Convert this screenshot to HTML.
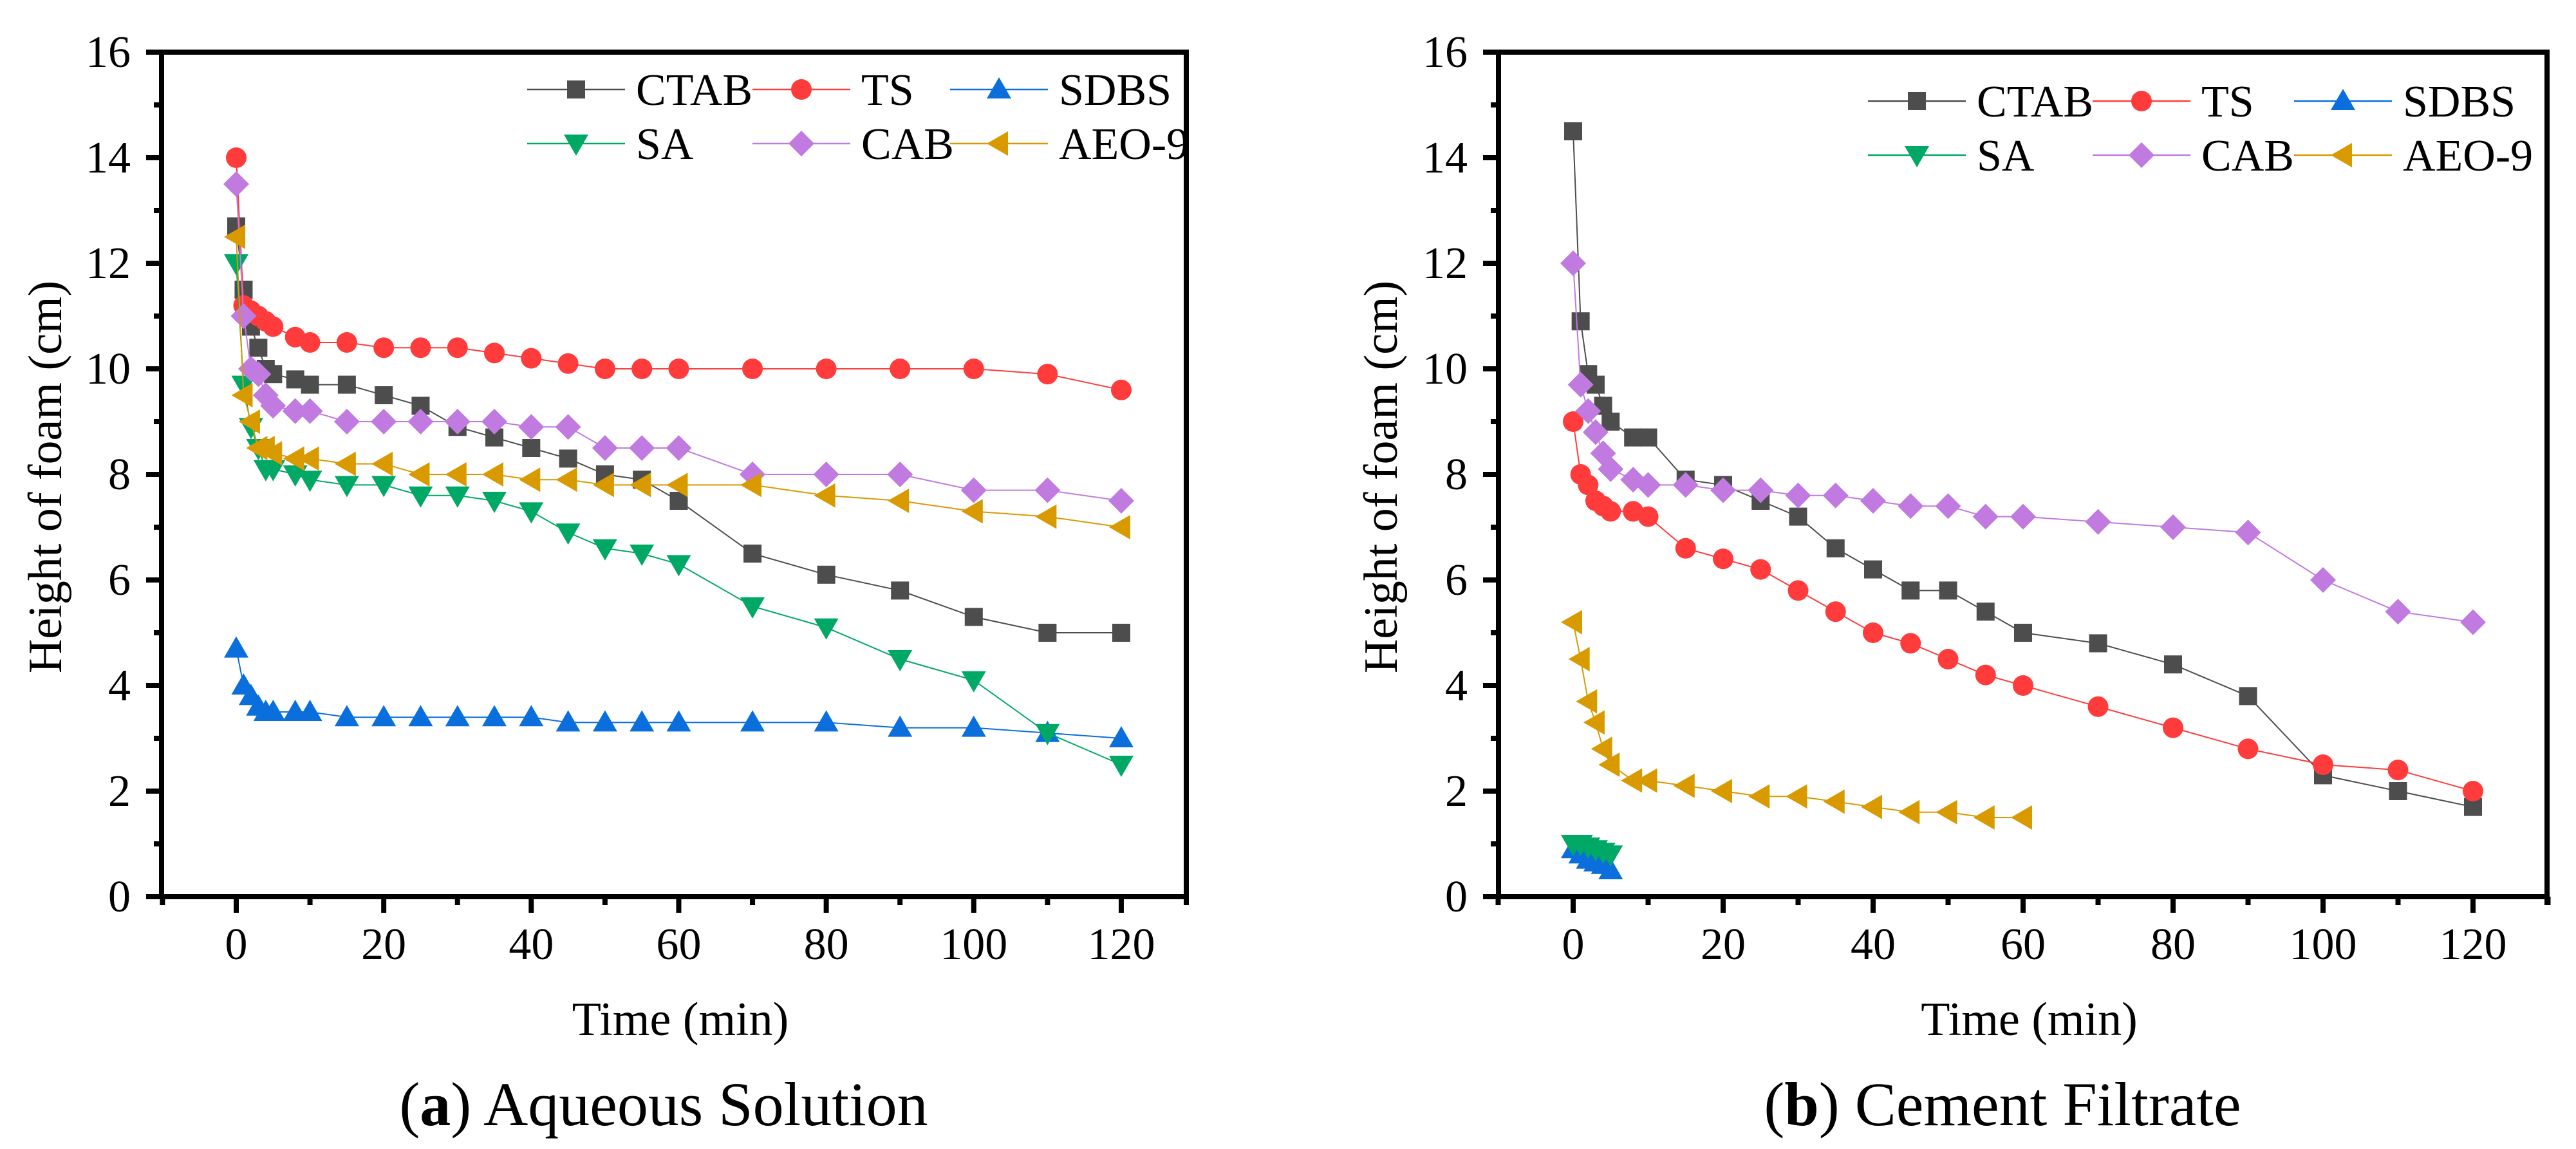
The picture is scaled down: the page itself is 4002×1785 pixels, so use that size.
<!DOCTYPE html>
<html><head><meta charset="utf-8"><style>
html,body{margin:0;padding:0;background:#fff;}
svg{display:block;}
text,tspan{font-family:"Liberation Serif",serif !important;}
</style></head><body>
<svg id="fig" width="4002" height="1785" viewBox="0 0 4002 1785" xmlns="http://www.w3.org/2000/svg" font-family="Liberation Serif, serif">
<rect width="4002" height="1785" fill="#fff"/>
</svg>
<script>
const tFull = [0,1,2,3,4,5,8,10,15,20,25,30,35,40,45,50,55,60,70,80,90,100,110,120];
const tAEOb = [0,1,2,3,4,5,8,10,15,20,25,30,35,40,45,50,55,60];
const tShort = [0,1,2,3,4,5];
const seriesNames = ["CTAB","TS","SDBS","SA","CAB","AEO-9"];
const a_CTAB = [12.7,11.5,10.8,10.4,10.0,9.9,9.8,9.7,9.7,9.5,9.3,8.9,8.7,8.5,8.3,8.0,7.9,7.5,6.5,6.1,5.8,5.3,5.0,5.0];
const a_TS   = [14.0,11.2,11.1,11.0,10.9,10.8,10.6,10.5,10.5,10.4,10.4,10.4,10.3,10.2,10.1,10.0,10.0,10.0,10.0,10.0,10.0,10.0,9.9,9.6];
const a_SDBS = [4.7,4.0,3.8,3.6,3.5,3.5,3.5,3.5,3.4,3.4,3.4,3.4,3.4,3.4,3.3,3.3,3.3,3.3,3.3,3.3,3.2,3.2,3.1,3.0];
const a_SA   = [12.0,9.7,8.9,8.5,8.1,8.1,8.0,7.9,7.8,7.8,7.6,7.6,7.5,7.3,6.9,6.6,6.5,6.3,5.5,5.1,4.5,4.1,3.1,2.5];
const a_CAB  = [13.5,11.0,10.0,9.9,9.5,9.3,9.2,9.2,9.0,9.0,9.0,9.0,9.0,8.9,8.9,8.5,8.5,8.5,8.0,8.0,8.0,7.7,7.7,7.5];
const a_AEO  = [12.5,9.5,9.0,8.5,8.5,8.4,8.3,8.3,8.2,8.2,8.0,8.0,8.0,7.9,7.9,7.8,7.8,7.8,7.8,7.6,7.5,7.3,7.2,7.0];
const b_CTAB = [14.5,10.9,9.9,9.7,9.3,9.0,8.7,8.7,7.9,7.8,7.5,7.2,6.6,6.2,5.8,5.8,5.4,5.0,4.8,4.4,3.8,2.3,2.0,1.7];
const b_TS   = [9.0,8.0,7.8,7.5,7.4,7.3,7.3,7.2,6.6,6.4,6.2,5.8,5.4,5.0,4.8,4.5,4.2,4.0,3.6,3.2,2.8,2.5,2.4,2.0];
const b_SDBS = [0.9,0.8,0.7,0.65,0.6,0.5];
const b_SA   = [1.0,1.0,0.95,0.9,0.85,0.8];
const b_CAB  = [12.0,9.7,9.2,8.8,8.4,8.1,7.9,7.8,7.8,7.7,7.7,7.6,7.6,7.5,7.4,7.4,7.2,7.2,7.1,7.0,6.9,6.0,5.4,5.2];
const b_AEO  = [5.2,4.5,3.7,3.3,2.8,2.5,2.2,2.2,2.1,2.0,1.9,1.9,1.8,1.7,1.6,1.6,1.5,1.5];
const xTicks = [0,20,40,60,80,100,120];
const yTicks = [0,2,4,6,8,10,12,14,16];

const NS="http://www.w3.org/2000/svg";
const svg=document.getElementById('fig');
const colors={"CTAB":"#4d4d4d","TS":"#ff3b3b","SDBS":"#0a6fdc","SA":"#00a866","CAB":"#c07ae0","AEO-9":"#d99a00"};
const shapes={"CTAB":"square","TS":"circle","SDBS":"up","SA":"down","CAB":"diamond","AEO-9":"left"};
function mk(tag,attrs,parent){const e=document.createElementNS(NS,tag);for(const k in attrs)e.setAttribute(k,attrs[k]);(parent||svg).appendChild(e);return e;}
function txt(parent,x,y,size,anchor,content,extra){
  parent.insertAdjacentHTML('beforeend',`<text x="${x}" y="${y}" font-size="${size}" text-anchor="${anchor}" font-family="Liberation Serif, serif" ${extra||''}>${content}</text>`);
  return parent.lastElementChild;
}
function marker(shape,cx,cy,col,g){
  let e;
  if(shape==="square"){e=mk('rect',{x:cx-14,y:cy-14,width:28,height:28,fill:col},g);}
  else if(shape==="circle"){e=mk('circle',{cx:cx,cy:cy,r:16,fill:col},g);}
  else if(shape==="up"){e=mk('polygon',{points:`${cx},${cy-19} ${cx+19},${cy+14} ${cx-19},${cy+14}`,fill:col},g);}
  else if(shape==="down"){e=mk('polygon',{points:`${cx},${cy+19} ${cx+19},${cy-14} ${cx-19},${cy-14}`,fill:col},g);}
  else if(shape==="diamond"){e=mk('polygon',{points:`${cx},${cy-20} ${cx+20},${cy} ${cx},${cy+20} ${cx-20},${cy}`,fill:col},g);}
  else {e=mk('polygon',{points:`${cx-19},${cy} ${cx+14},${cy-19} ${cx+14},${cy+19}`,fill:col},g);}
  return e;
}
function panel(p){
  const xs=v=>p.x0+v*p.kx;
  const ys=v=>1393-v*82;
  const g=mk('g',{});
  
  
  p.series.forEach(s=>{
    const sg=mk('g',{},g);
    
    
    const pts=s.t.map((t,i)=>xs(t)+','+ys(s.v[i])).join(' ');
    const l=mk('polyline',{points:pts,fill:'none',stroke:colors[s.name],'stroke-width':2},sg);
    
    
    s.t.forEach((t,i)=>{
      const m=marker(shapes[s.name],xs(t),ys(s.v[i]),colors[s.name],sg);
      
      
    });
  });
  const f=mk('rect',{x:p.left,y:81,width:p.right-p.left,height:1312,fill:'none',stroke:'#000','stroke-width':8},g);
  
  
  yTicks.forEach(v=>{
    mk('line',{x1:p.left-24,x2:p.left,y1:ys(v),y2:ys(v),stroke:'#000','stroke-width':8},g);
    if(v<16) mk('line',{x1:p.left-12,x2:p.left,y1:ys(v+1),y2:ys(v+1),stroke:'#000','stroke-width':8},g);
    const tx=txt(g,p.left-48,ys(v)+23,70,'end',String(v));
    
    
  });
  for(let v=-10;v<=130;v+=10){
    const px=xs(v); if(px<p.left-2||px>p.right+2) continue;
    const major=(v%20===0);
    mk('line',{x1:px,x2:px,y1:1393,y2:1393+(major?25:13),stroke:'#000','stroke-width':8},g);
  }
  mk('line',{x1:p.right,x2:p.right,y1:1393,y2:1406,stroke:'#000','stroke-width':8},g);
  xTicks.forEach(v=>{
    const tx=txt(g,xs(v),1490,70,'middle',String(v));
    
    
  });
  const xt=txt(g,(p.left+p.right)/2+10,1608,74,'middle','Time (min)');
  
  
  const yt=txt(g,0,0,74,'middle','Height of foam (cm)',`transform="translate(${p.ytx},741) rotate(-90)"`);
  
  
  const lg=mk('g',{},g);
  
  
  seriesNames.forEach((n,i)=>{
    const col=i%3,row=Math.floor(i/3);
    const mx=p.legX[col], my=p.legY[row];
    const eg=mk('g',{},lg);
    
    
    mk('line',{x1:mx-76,x2:mx+76,y1:my,y2:my,stroke:colors[n],'stroke-width':2.5},eg);
    marker(shapes[n],mx,my,colors[n],eg);
    txt(eg,mx+93,my+24,70,'start',n);
  });
  const c=txt(g,p.capX,1748,96,'middle','(<tspan font-weight="bold">'+p.letter+'</tspan>) '+p.caption);
  
  
}
panel({id:'panel-a',x0:367,kx:11.458,left:251,right:1843,ytx:95,capX:1031,letter:'a',caption:'Aqueous Solution',
  legX:[895,1245,1552],legY:[139,223],
  series:[{name:'CTAB',t:tFull,v:a_CTAB},{name:'TS',t:tFull,v:a_TS},{name:'SDBS',t:tFull,v:a_SDBS},
          {name:'SA',t:tFull,v:a_SA},{name:'CAB',t:tFull,v:a_CAB},{name:'AEO-9',t:tFull,v:a_AEO}]});
panel({id:'panel-b',x0:2444,kx:11.65,left:2328,right:3957,ytx:2170,capX:3111,letter:'b',caption:'Cement Filtrate',
  legX:[2978,3327,3640],legY:[157,241],
  series:[{name:'CTAB',t:tFull,v:b_CTAB},{name:'TS',t:tFull,v:b_TS},{name:'SDBS',t:tShort,v:b_SDBS},
          {name:'SA',t:tShort,v:b_SA},{name:'CAB',t:tFull,v:b_CAB},{name:'AEO-9',t:tAEOb,v:b_AEO}]});
</script>
</body></html>
